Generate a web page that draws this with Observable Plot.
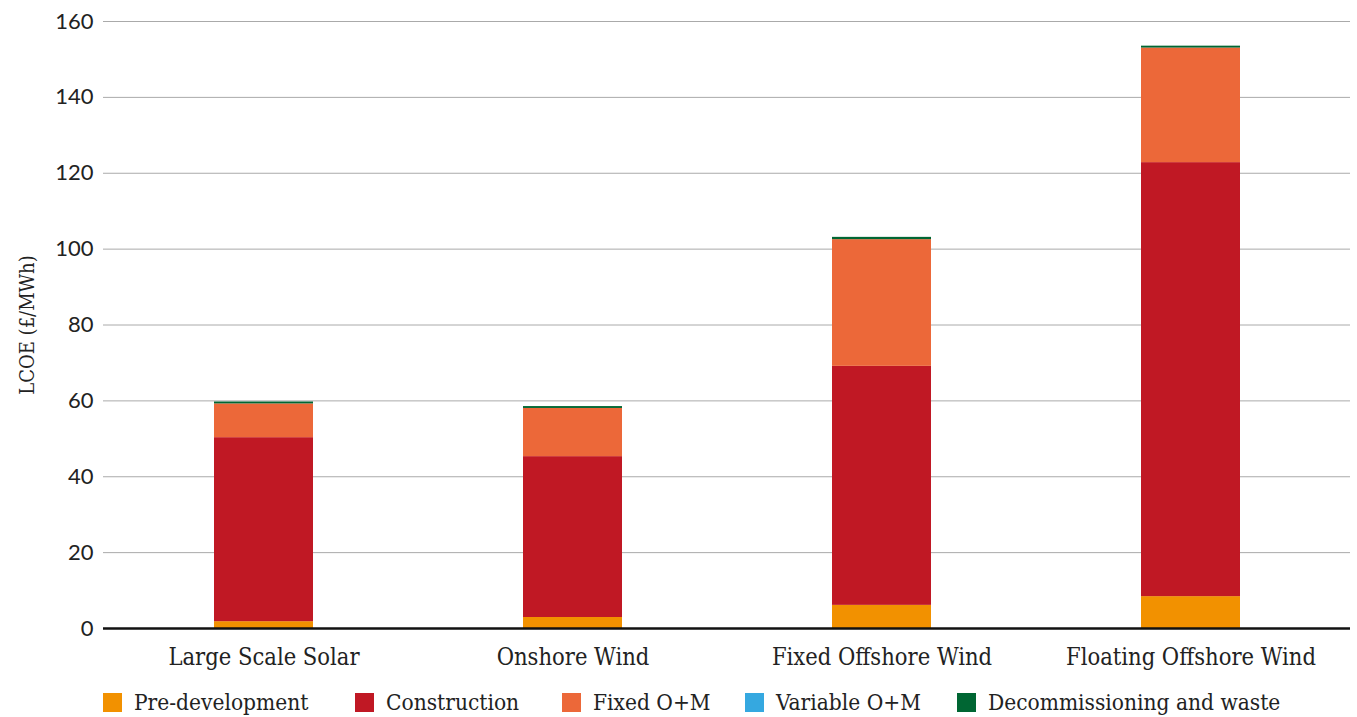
<!DOCTYPE html>
<html>
<head>
<meta charset="utf-8">
<script src="https://cdn.jsdelivr.net/npm/d3@7"></script>
<script src="https://cdn.jsdelivr.net/npm/@observablehq/plot@0.6"></script>
<style>
  html, body { margin: 0; padding: 0; background: #fff; }
  #legend { display: flex; position: relative; height: 37px; font-family: "DejaVu Serif Condensed", "DejaVu Serif", serif; font-size: 22.5px; color: #222; }
  .item { position: absolute; top: 9px; display: flex; align-items: center; }
  .sw { width: 19px; height: 19px; margin-right: 12px; }
</style>
</head>
<body>
<div id="chart"></div>
<div id="legend"></div>
<script>
const categories = ["Large Scale Solar", "Onshore Wind", "Fixed Offshore Wind", "Floating Offshore Wind"];
const components = ["Pre-development", "Construction", "Fixed O+M", "Variable O+M", "Decommissioning and waste"];
const colors = ["#F29100", "#C01824", "#EC6839", "#35A8E0", "#006633"];
const preDevelopment = [1.8, 2.9, 6.1, 8.4];
const construction   = [48.5, 42.4, 63.0, 114.4];
const fixedOM        = [8.9, 12.7, 33.4, 30.2];
const variableOM     = [0, 0, 0, 0];
const decommissioning = [0.5, 0.5, 0.6, 0.5];
const yTicks = [0, 20, 40, 60, 80, 100, 120, 140, 160];
const legendX = [103, 355, 562, 745, 957];

const series = [preDevelopment, construction, fixedOM, variableOM, decommissioning];
const data = [];
categories.forEach((c, i) => {
  components.forEach((comp, j) => {
    data.push({category: c, component: comp, value: series[j][i]});
  });
});

const tickFont = "Lato, 'Open Sans', sans-serif";
const serifFont = "'DejaVu Serif Condensed', 'DejaVu Serif', serif";

const chart = Plot.plot({
  width: 1357,
  height: 680,
  marginTop: 21,
  marginBottom: 52,
  marginLeft: 103,
  marginRight: 7,
  x: {domain: categories, paddingInner: 0.68, paddingOuter: 0.355, label: null},
  y: {domain: [0, 160], label: null},
  color: {domain: components, range: colors},
  marks: [
    Plot.gridY(yTicks, {stroke: "#aaa", strokeOpacity: 1, strokeWidth: 1}),
    Plot.barY(data, {x: "category", y: "value", fill: "component", order: components}),
    Plot.ruleY([0], {stroke: "#111", strokeWidth: 2.5}),
    Plot.axisY({ticks: yTicks, tickSize: 0, tickPadding: 10, fontSize: 22, fontFamily: tickFont, fill: "#222", label: null}),
    Plot.axisX({tickSize: 0, tickPadding: 20, fontSize: 23.5, fontFamily: serifFont, fill: "#222", label: null}),
    Plot.text(["LCOE (£/MWh)"], {frameAnchor: "left", textAnchor: "middle", rotate: -90, dx: -76, fontSize: 20, fontFamily: serifFont, fill: "#222"})
  ]
});
document.getElementById("chart").appendChild(chart);

const legend = document.getElementById("legend");
components.forEach((comp, i) => {
  const item = document.createElement("div");
  item.className = "item";
  item.style.left = legendX[i] + "px";
  const sw = document.createElement("div");
  sw.className = "sw";
  sw.style.background = colors[i];
  const label = document.createElement("span");
  label.textContent = comp;
  item.appendChild(sw);
  item.appendChild(label);
  legend.appendChild(item);
});
</script>
</body>
</html>
